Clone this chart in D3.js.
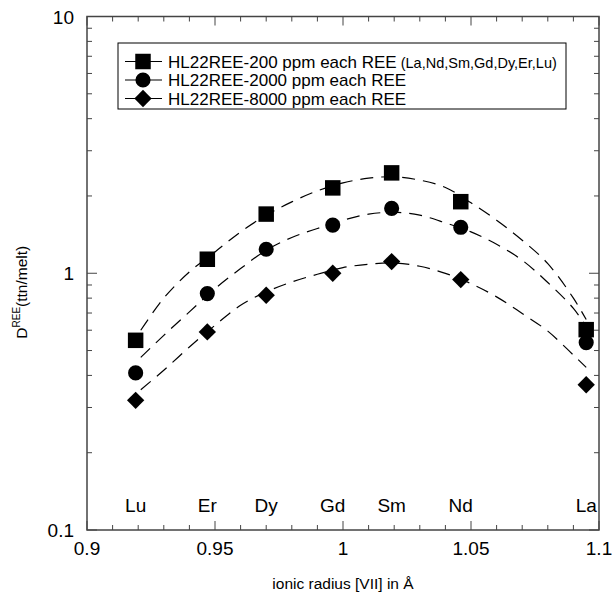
<!DOCTYPE html>
<html>
<head>
<meta charset="utf-8">
<script src="https://cdn.jsdelivr.net/npm/d3@7"></script>
<style>
  body { margin: 0; background: #fff; }
  text { font-family: "Liberation Sans", Arial, sans-serif; fill: #000; }
</style>
</head>
<body>
<div id="chart"></div>
<script>
// REE partitioning, titanite / melt
const elements = ["Lu", "Er", "Dy", "Gd", "Sm", "Nd", "La"];
const radius = [0.919, 0.947, 0.970, 0.996, 1.019, 1.046, 1.095];
const d200 = [0.548, 1.134, 1.70, 2.15, 2.46, 1.90, 0.603];
const d2000 = [0.409, 0.833, 1.24, 1.54, 1.79, 1.51, 0.537];
const d8000 = [0.320, 0.591, 0.821, 1.00, 1.11, 0.945, 0.368];

// dashed fit curves
const fitR = [0.921, 0.93, 0.94, 0.95, 0.96, 0.97, 0.98, 0.99, 1.00, 1.01, 1.02,
              1.03, 1.04, 1.05, 1.06, 1.07, 1.08, 1.09, 1.095];
const fit200 = [0.60, 0.80, 1.012, 1.211, 1.449, 1.683, 1.897, 2.094, 2.249, 2.346, 2.374,
                2.305, 2.158, 1.88, 1.609, 1.345, 1.09, 0.80, 0.66];
const fit2000 = [0.47, 0.573, 0.707, 0.871, 1.043, 1.229, 1.378, 1.494, 1.609, 1.698, 1.729,
                 1.683, 1.571, 1.449, 1.297, 1.124, 0.92, 0.73, 0.62];
const fit8000 = [0.352, 0.419, 0.516, 0.627, 0.750, 0.846, 0.925, 0.991, 1.052, 1.084, 1.097,
                 1.065, 0.999, 0.911, 0.809, 0.697, 0.595, 0.48, 0.43];

const xTicks = [0.9, 0.95, 1, 1.05, 1.1];
const yTicks = [0.1, 1, 10];

const W = 612, H = 599;
const m = { left: 87, right: 13, top: 16.5, bottom: 69 };

const svg = d3.select("#chart").append("svg")
  .attr("width", W).attr("height", H);

const x = d3.scaleLinear().domain([0.9, 1.1]).range([m.left, W - m.right]);
const y = d3.scaleLog().domain([0.1, 10]).range([H - m.bottom, m.top]);

// frame
svg.append("rect")
  .attr("x", x(0.9)).attr("y", y(10))
  .attr("width", x(1.1) - x(0.9)).attr("height", y(0.1) - y(10))
  .attr("fill", "none").attr("stroke", "#444").attr("stroke-width", 1.5);

// x ticks (bottom and top, pointing inward)
const xMinor = d3.range(0.9, 1.1001, 0.01);
const tickG = svg.append("g").attr("stroke", "#444").attr("stroke-width", 1);
xMinor.forEach(v => {
  const major = xTicks.some(t => Math.abs(t - v) < 1e-6);
  const len = major ? 9 : 5;
  tickG.append("line").attr("x1", x(v)).attr("x2", x(v))
    .attr("y1", y(0.1)).attr("y2", y(0.1) - len);
  tickG.append("line").attr("x1", x(v)).attr("x2", x(v))
    .attr("y1", y(10)).attr("y2", y(10) + len);
});
// y ticks (left and right)
const yAll = [];
[0.1, 1].forEach(dec => d3.range(1, 10).forEach(k => yAll.push(dec * k)));
yAll.push(10);
yAll.forEach(v => {
  const major = yTicks.some(t => Math.abs(t - v) < 1e-9);
  const len = major ? 10 : 5;
  tickG.append("line").attr("x1", x(0.9)).attr("x2", x(0.9) + len)
    .attr("y1", y(v)).attr("y2", y(v));
  tickG.append("line").attr("x1", x(1.1)).attr("x2", x(1.1) - len)
    .attr("y1", y(v)).attr("y2", y(v));
});

// tick labels
svg.selectAll(".xl").data(xTicks).join("text")
  .attr("x", d => x(d)).attr("y", y(0.1) + 25)
  .attr("text-anchor", "middle").attr("font-size", 19)
  .text(d => d3.format("")(d));
svg.selectAll(".yl").data(yTicks).join("text")
  .attr("x", x(0.9) - 13).attr("y", d => y(d) + 7)
  .attr("text-anchor", "end").attr("font-size", 19)
  .text(d => d);

// axis titles
svg.append("text")
  .attr("x", x(1)).attr("y", H - 10)
  .attr("text-anchor", "middle").attr("font-size", 15.5)
  .text("ionic radius [VII] in Å");
const yt = svg.append("text")
  .attr("transform", `translate(27, ${y(1) + 19}) rotate(-90)`)
  .attr("text-anchor", "middle").attr("font-size", 15.5);
yt.append("tspan").text("D");
yt.append("tspan").attr("font-size", 10).attr("dy", -7).text("REE");
yt.append("tspan").attr("dy", 7).text("(ttn/melt)");

// element labels
svg.selectAll(".el").data(elements).join("text")
  .attr("x", (d, i) => x(radius[i])).attr("y", y(0.1) - 18)
  .attr("text-anchor", "middle").attr("font-size", 19)
  .text(d => d);

// fit curves
const line = d3.line()
  .x((d, i) => x(fitR[i])).y(d => y(d))
  .curve(d3.curveCatmullRom);
[fit200, fit2000, fit8000].forEach(f => {
  svg.append("path").datum(f)
    .attr("d", line)
    .attr("fill", "none").attr("stroke", "#000")
    .attr("stroke-width", 1.2).attr("stroke-dasharray", "13,8");
});

// markers
const sym = {
  square: d3.symbol().type(d3.symbolSquare).size(240),
  circle: d3.symbol().type(d3.symbolCircle).size(180),
  diamond: d3.symbol().type(d3.symbolSquare).size(150)
};
const series = [
  { vals: d200, shape: "square", rot: 0, label: "HL22REE-200 ppm each REE", extra: "(La,Nd,Sm,Gd,Dy,Er,Lu)" },
  { vals: d2000, shape: "circle", rot: 0, label: "HL22REE-2000 ppm each REE" },
  { vals: d8000, shape: "diamond", rot: 45, label: "HL22REE-8000 ppm each REE" }
];
series.forEach(s => {
  svg.append("g").selectAll("path").data(s.vals).join("path")
    .attr("d", sym[s.shape])
    .attr("transform", (d, i) => `translate(${x(radius[i])},${y(d)}) rotate(${s.rot})`)
    .attr("fill", "#000");
});

// legend
const lg = svg.append("g");
lg.append("rect").attr("x", 118).attr("y", 43).attr("width", 448).attr("height", 66)
  .attr("fill", "#fff").attr("stroke", "#000").attr("stroke-width", 1);
series.forEach((s, i) => {
  const cy = 61.5 + i * 18.5;
  lg.append("line").attr("x1", 125).attr("x2", 162).attr("y1", cy).attr("y2", cy)
    .attr("stroke", "#000").attr("stroke-width", 1.2);
  lg.append("path").attr("d", sym[s.shape])
    .attr("transform", `translate(143,${cy}) rotate(${s.rot})`).attr("fill", "#000");
  const t = lg.append("text").attr("x", 168).attr("y", cy + 6).attr("font-size", 17);
  t.append("tspan").text(s.label);
  if (s.extra) t.append("tspan").attr("font-size", 14.5).text(" " + s.extra);
});
</script>
</body>
</html>
